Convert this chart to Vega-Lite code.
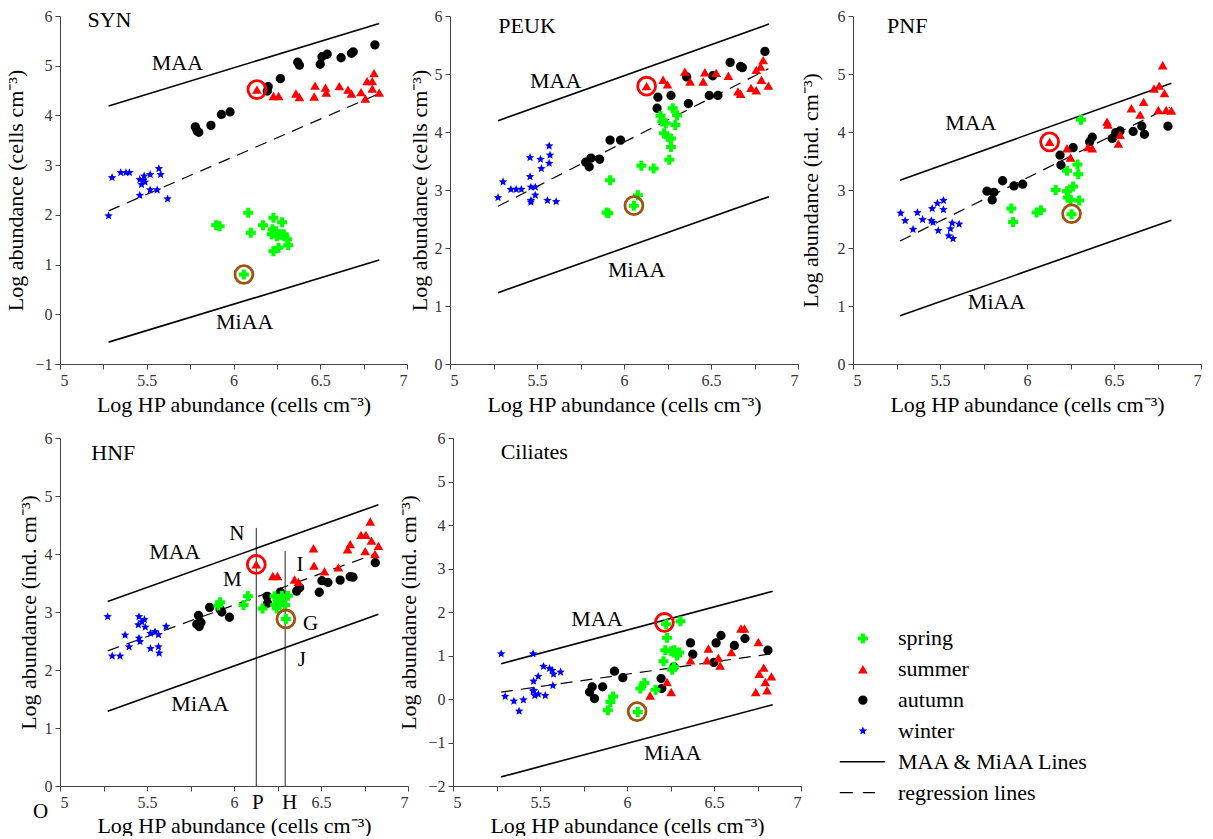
{
"background": "white",
"padding": {"left": 4, "top": 8, "right": 0, "bottom": 0},
"config": {
  "font": "Liberation Serif",
  "view": {"stroke": null},
  "axis": {"grid": false, "labelFont": "Liberation Serif", "titleFont": "Liberation Serif", "labelFontSize": 16, "titleFontSize": 22, "titleFontWeight": "normal", "labelColor": "#333333", "titleColor": "#000000", "domainColor": "#444444", "tickColor": "#444444", "tickSize": 5, "labelPadding": 3},
  "text": {"font": "Liberation Serif"}
},
"datasets": {
  "pts": [
    {"p":"SYN","s":"winter","x":5.28,"y":1.98},{"p":"SYN","s":"winter","x":5.30,"y":2.75},{"p":"SYN","s":"winter","x":5.35,"y":2.85},{"p":"SYN","s":"winter","x":5.38,"y":2.85},{"p":"SYN","s":"winter","x":5.40,"y":2.85},{"p":"SYN","s":"winter","x":5.46,"y":2.71},{"p":"SYN","s":"winter","x":5.47,"y":2.61},{"p":"SYN","s":"winter","x":5.485,"y":2.78},{"p":"SYN","s":"winter","x":5.49,"y":2.66},{"p":"SYN","s":"winter","x":5.52,"y":2.81},{"p":"SYN","s":"winter","x":5.57,"y":2.93},{"p":"SYN","s":"winter","x":5.58,"y":2.81},{"p":"SYN","s":"winter","x":5.52,"y":2.50},{"p":"SYN","s":"winter","x":5.56,"y":2.50},{"p":"SYN","s":"winter","x":5.46,"y":2.39},{"p":"SYN","s":"winter","x":5.62,"y":2.32},{"p":"SYN","s":"winter","x":5.48,"y":2.70},
    {"p":"SYN","s":"autumn","x":5.78,"y":3.77},{"p":"SYN","s":"autumn","x":5.79,"y":3.69},{"p":"SYN","s":"autumn","x":5.80,"y":3.66},{"p":"SYN","s":"autumn","x":5.87,"y":3.80},{"p":"SYN","s":"autumn","x":5.93,"y":4.02},{"p":"SYN","s":"autumn","x":5.98,"y":4.07},{"p":"SYN","s":"autumn","x":6.195,"y":4.49},{"p":"SYN","s":"autumn","x":6.20,"y":4.58},{"p":"SYN","s":"autumn","x":6.27,"y":4.74},{"p":"SYN","s":"autumn","x":6.37,"y":5.07},{"p":"SYN","s":"autumn","x":6.38,"y":5.01},{"p":"SYN","s":"autumn","x":6.50,"y":5.03},{"p":"SYN","s":"autumn","x":6.51,"y":5.18},{"p":"SYN","s":"autumn","x":6.54,"y":5.23},{"p":"SYN","s":"autumn","x":6.62,"y":5.16},{"p":"SYN","s":"autumn","x":6.68,"y":5.25},{"p":"SYN","s":"autumn","x":6.69,"y":5.28},{"p":"SYN","s":"autumn","x":6.815,"y":5.42},
    {"p":"SYN","s":"summer","x":6.135,"y":4.52},{"p":"SYN","s":"summer","x":6.23,"y":4.39},{"p":"SYN","s":"summer","x":6.26,"y":4.39},{"p":"SYN","s":"summer","x":6.36,"y":4.44},{"p":"SYN","s":"summer","x":6.38,"y":4.37},{"p":"SYN","s":"summer","x":6.465,"y":4.38},{"p":"SYN","s":"summer","x":6.47,"y":4.60},{"p":"SYN","s":"summer","x":6.53,"y":4.56},{"p":"SYN","s":"summer","x":6.535,"y":4.46},{"p":"SYN","s":"summer","x":6.61,"y":4.59},{"p":"SYN","s":"summer","x":6.66,"y":4.52},{"p":"SYN","s":"summer","x":6.68,"y":4.44},{"p":"SYN","s":"summer","x":6.735,"y":4.47},{"p":"SYN","s":"summer","x":6.76,"y":4.34},{"p":"SYN","s":"summer","x":6.77,"y":4.69},{"p":"SYN","s":"summer","x":6.80,"y":4.69},{"p":"SYN","s":"summer","x":6.81,"y":4.85},{"p":"SYN","s":"summer","x":6.80,"y":4.54},{"p":"SYN","s":"summer","x":6.84,"y":4.46},
    {"p":"SYN","s":"spring","x":5.90,"y":1.79},{"p":"SYN","s":"spring","x":5.92,"y":1.77},{"p":"SYN","s":"spring","x":6.085,"y":2.04},{"p":"SYN","s":"spring","x":6.10,"y":1.64},{"p":"SYN","s":"spring","x":6.17,"y":1.79},{"p":"SYN","s":"spring","x":6.23,"y":1.94},{"p":"SYN","s":"spring","x":6.225,"y":1.71},{"p":"SYN","s":"spring","x":6.22,"y":1.61},{"p":"SYN","s":"spring","x":6.245,"y":1.67},{"p":"SYN","s":"spring","x":6.25,"y":1.57},{"p":"SYN","s":"spring","x":6.27,"y":1.60},{"p":"SYN","s":"spring","x":6.28,"y":1.85},{"p":"SYN","s":"spring","x":6.29,"y":1.61},{"p":"SYN","s":"spring","x":6.31,"y":1.51},{"p":"SYN","s":"spring","x":6.315,"y":1.39},{"p":"SYN","s":"spring","x":6.26,"y":1.34},{"p":"SYN","s":"spring","x":6.23,"y":1.27},{"p":"SYN","s":"spring","x":6.06,"y":0.80},

    {"p":"PEUK","s":"winter","x":5.276,"y":2.87},{"p":"PEUK","s":"winter","x":5.305,"y":3.14},{"p":"PEUK","s":"winter","x":5.35,"y":3.01},{"p":"PEUK","s":"winter","x":5.38,"y":3.01},{"p":"PEUK","s":"winter","x":5.41,"y":3.01},{"p":"PEUK","s":"winter","x":5.46,"y":3.56},{"p":"PEUK","s":"winter","x":5.46,"y":3.23},{"p":"PEUK","s":"winter","x":5.465,"y":3.05},{"p":"PEUK","s":"winter","x":5.465,"y":2.82},{"p":"PEUK","s":"winter","x":5.465,"y":2.79},{"p":"PEUK","s":"winter","x":5.49,"y":3.05},{"p":"PEUK","s":"winter","x":5.49,"y":2.91},{"p":"PEUK","s":"winter","x":5.52,"y":3.53},{"p":"PEUK","s":"winter","x":5.525,"y":3.37},{"p":"PEUK","s":"winter","x":5.56,"y":2.82},{"p":"PEUK","s":"winter","x":5.57,"y":3.76},{"p":"PEUK","s":"winter","x":5.575,"y":3.60},{"p":"PEUK","s":"winter","x":5.57,"y":3.46},{"p":"PEUK","s":"winter","x":5.61,"y":2.80},
    {"p":"PEUK","s":"autumn","x":5.78,"y":3.48},{"p":"PEUK","s":"autumn","x":5.80,"y":3.40},{"p":"PEUK","s":"autumn","x":5.81,"y":3.55},{"p":"PEUK","s":"autumn","x":5.86,"y":3.53},{"p":"PEUK","s":"autumn","x":5.92,"y":3.86},{"p":"PEUK","s":"autumn","x":5.98,"y":3.86},{"p":"PEUK","s":"autumn","x":6.19,"y":4.41},{"p":"PEUK","s":"autumn","x":6.195,"y":4.60},{"p":"PEUK","s":"autumn","x":6.27,"y":4.63},{"p":"PEUK","s":"autumn","x":6.37,"y":4.49},{"p":"PEUK","s":"autumn","x":6.36,"y":4.95},{"p":"PEUK","s":"autumn","x":6.51,"y":4.97},{"p":"PEUK","s":"autumn","x":6.49,"y":4.63},{"p":"PEUK","s":"autumn","x":6.54,"y":4.63},{"p":"PEUK","s":"autumn","x":6.61,"y":5.20},{"p":"PEUK","s":"autumn","x":6.67,"y":5.13},{"p":"PEUK","s":"autumn","x":6.68,"y":5.11},{"p":"PEUK","s":"autumn","x":6.81,"y":5.39},
    {"p":"PEUK","s":"summer","x":6.13,"y":4.79},{"p":"PEUK","s":"summer","x":6.225,"y":4.90},{"p":"PEUK","s":"summer","x":6.25,"y":4.82},{"p":"PEUK","s":"summer","x":6.35,"y":5.04},{"p":"PEUK","s":"summer","x":6.38,"y":4.87},{"p":"PEUK","s":"summer","x":6.455,"y":4.87},{"p":"PEUK","s":"summer","x":6.465,"y":5.03},{"p":"PEUK","s":"summer","x":6.53,"y":5.02},{"p":"PEUK","s":"summer","x":6.60,"y":4.97},{"p":"PEUK","s":"summer","x":6.655,"y":4.70},{"p":"PEUK","s":"summer","x":6.67,"y":4.66},{"p":"PEUK","s":"summer","x":6.73,"y":4.76},{"p":"PEUK","s":"summer","x":6.76,"y":4.72},{"p":"PEUK","s":"summer","x":6.76,"y":5.07},{"p":"PEUK","s":"summer","x":6.785,"y":5.13},{"p":"PEUK","s":"summer","x":6.80,"y":5.24},{"p":"PEUK","s":"summer","x":6.79,"y":4.90},{"p":"PEUK","s":"summer","x":6.83,"y":4.80},
    {"p":"PEUK","s":"spring","x":5.90,"y":2.61},{"p":"PEUK","s":"spring","x":5.91,"y":2.60},{"p":"PEUK","s":"spring","x":5.92,"y":3.17},{"p":"PEUK","s":"spring","x":6.08,"y":2.91},{"p":"PEUK","s":"spring","x":6.057,"y":2.73},{"p":"PEUK","s":"spring","x":6.10,"y":3.42},{"p":"PEUK","s":"spring","x":6.17,"y":3.37},{"p":"PEUK","s":"spring","x":6.21,"y":4.28},{"p":"PEUK","s":"spring","x":6.22,"y":4.18},{"p":"PEUK","s":"spring","x":6.23,"y":3.98},{"p":"PEUK","s":"spring","x":6.24,"y":4.15},{"p":"PEUK","s":"spring","x":6.25,"y":3.92},{"p":"PEUK","s":"spring","x":6.27,"y":3.89},{"p":"PEUK","s":"spring","x":6.27,"y":3.74},{"p":"PEUK","s":"spring","x":6.26,"y":3.52},{"p":"PEUK","s":"spring","x":6.28,"y":4.41},{"p":"PEUK","s":"spring","x":6.305,"y":4.29},{"p":"PEUK","s":"spring","x":6.295,"y":4.12},

    {"p":"PNF","s":"winter","x":5.274,"y":2.60},{"p":"PNF","s":"winter","x":5.30,"y":2.47},{"p":"PNF","s":"winter","x":5.345,"y":2.32},{"p":"PNF","s":"winter","x":5.37,"y":2.61},{"p":"PNF","s":"winter","x":5.40,"y":2.49},{"p":"PNF","s":"winter","x":5.45,"y":2.47},{"p":"PNF","s":"winter","x":5.455,"y":2.68},{"p":"PNF","s":"winter","x":5.46,"y":2.44},{"p":"PNF","s":"winter","x":5.485,"y":2.77},{"p":"PNF","s":"winter","x":5.49,"y":2.30},{"p":"PNF","s":"winter","x":5.52,"y":2.82},{"p":"PNF","s":"winter","x":5.52,"y":2.66},{"p":"PNF","s":"winter","x":5.55,"y":2.21},{"p":"PNF","s":"winter","x":5.56,"y":2.33},{"p":"PNF","s":"winter","x":5.57,"y":2.43},{"p":"PNF","s":"winter","x":5.575,"y":2.16},{"p":"PNF","s":"winter","x":5.61,"y":2.41},
    {"p":"PNF","s":"autumn","x":5.77,"y":2.98},{"p":"PNF","s":"autumn","x":5.80,"y":2.83},{"p":"PNF","s":"autumn","x":5.81,"y":2.96},{"p":"PNF","s":"autumn","x":5.86,"y":3.16},{"p":"PNF","s":"autumn","x":5.925,"y":3.07},{"p":"PNF","s":"autumn","x":5.975,"y":3.10},{"p":"PNF","s":"autumn","x":6.19,"y":3.60},{"p":"PNF","s":"autumn","x":6.195,"y":3.43},{"p":"PNF","s":"autumn","x":6.265,"y":3.73},{"p":"PNF","s":"autumn","x":6.36,"y":3.83},{"p":"PNF","s":"autumn","x":6.375,"y":3.91},{"p":"PNF","s":"autumn","x":6.49,"y":3.89},{"p":"PNF","s":"autumn","x":6.51,"y":3.99},{"p":"PNF","s":"autumn","x":6.535,"y":4.02},{"p":"PNF","s":"autumn","x":6.61,"y":4.01},{"p":"PNF","s":"autumn","x":6.66,"y":4.10},{"p":"PNF","s":"autumn","x":6.675,"y":3.96},{"p":"PNF","s":"autumn","x":6.81,"y":4.10},
    {"p":"PNF","s":"summer","x":6.13,"y":3.83},{"p":"PNF","s":"summer","x":6.23,"y":3.72},{"p":"PNF","s":"summer","x":6.25,"y":3.56},{"p":"PNF","s":"summer","x":6.35,"y":3.74},{"p":"PNF","s":"summer","x":6.375,"y":3.72},{"p":"PNF","s":"summer","x":6.46,"y":4.18},{"p":"PNF","s":"summer","x":6.465,"y":4.13},{"p":"PNF","s":"summer","x":6.525,"y":3.80},{"p":"PNF","s":"summer","x":6.535,"y":3.95},{"p":"PNF","s":"summer","x":6.60,"y":4.41},{"p":"PNF","s":"summer","x":6.65,"y":4.30},{"p":"PNF","s":"summer","x":6.67,"y":4.52},{"p":"PNF","s":"summer","x":6.73,"y":4.75},{"p":"PNF","s":"summer","x":6.76,"y":4.80},{"p":"PNF","s":"summer","x":6.755,"y":4.38},{"p":"PNF","s":"summer","x":6.78,"y":5.15},{"p":"PNF","s":"summer","x":6.79,"y":4.67},{"p":"PNF","s":"summer","x":6.80,"y":4.38},{"p":"PNF","s":"summer","x":6.83,"y":4.37},
    {"p":"PNF","s":"spring","x":5.91,"y":2.68},{"p":"PNF","s":"spring","x":5.92,"y":2.45},{"p":"PNF","s":"spring","x":6.055,"y":2.61},{"p":"PNF","s":"spring","x":6.08,"y":2.65},{"p":"PNF","s":"spring","x":6.165,"y":3.0},{"p":"PNF","s":"spring","x":6.23,"y":3.33},{"p":"PNF","s":"spring","x":6.23,"y":2.98},{"p":"PNF","s":"spring","x":6.235,"y":2.87},{"p":"PNF","s":"spring","x":6.265,"y":3.06},{"p":"PNF","s":"spring","x":6.29,"y":3.44},{"p":"PNF","s":"spring","x":6.295,"y":3.27},{"p":"PNF","s":"spring","x":6.30,"y":2.82},{"p":"PNF","s":"spring","x":6.31,"y":4.21},{"p":"PNF","s":"spring","x":6.256,"y":2.58},{"p":"PNF","s":"spring","x":6.25,"y":2.83},

    {"p":"HNF","s":"winter","x":5.274,"y":2.92},{"p":"HNF","s":"winter","x":5.30,"y":2.24},{"p":"HNF","s":"winter","x":5.345,"y":2.24},{"p":"HNF","s":"winter","x":5.374,"y":2.60},{"p":"HNF","s":"winter","x":5.397,"y":2.40},{"p":"HNF","s":"winter","x":5.454,"y":2.92},{"p":"HNF","s":"winter","x":5.45,"y":2.78},{"p":"HNF","s":"winter","x":5.454,"y":2.55},{"p":"HNF","s":"winter","x":5.46,"y":2.49},{"p":"HNF","s":"winter","x":5.47,"y":2.83},{"p":"HNF","s":"winter","x":5.485,"y":2.87},{"p":"HNF","s":"winter","x":5.49,"y":2.74},{"p":"HNF","s":"winter","x":5.52,"y":2.37},{"p":"HNF","s":"winter","x":5.52,"y":2.63},{"p":"HNF","s":"winter","x":5.546,"y":2.66},{"p":"HNF","s":"winter","x":5.566,"y":2.61},{"p":"HNF","s":"winter","x":5.566,"y":2.40},{"p":"HNF","s":"winter","x":5.57,"y":2.29},{"p":"HNF","s":"winter","x":5.61,"y":2.75},
    {"p":"HNF","s":"autumn","x":5.786,"y":2.79},{"p":"HNF","s":"autumn","x":5.796,"y":2.94},{"p":"HNF","s":"autumn","x":5.80,"y":2.75},{"p":"HNF","s":"autumn","x":5.81,"y":2.82},{"p":"HNF","s":"autumn","x":5.86,"y":3.08},{"p":"HNF","s":"autumn","x":5.92,"y":3.05},{"p":"HNF","s":"autumn","x":5.93,"y":3.0},{"p":"HNF","s":"autumn","x":5.974,"y":2.91},{"p":"HNF","s":"autumn","x":6.19,"y":3.27},{"p":"HNF","s":"autumn","x":6.193,"y":3.15},{"p":"HNF","s":"autumn","x":6.266,"y":3.34},{"p":"HNF","s":"autumn","x":6.36,"y":3.36},{"p":"HNF","s":"autumn","x":6.377,"y":3.42},{"p":"HNF","s":"autumn","x":6.49,"y":3.34},{"p":"HNF","s":"autumn","x":6.505,"y":3.54},{"p":"HNF","s":"autumn","x":6.54,"y":3.51},{"p":"HNF","s":"autumn","x":6.61,"y":3.55},{"p":"HNF","s":"autumn","x":6.668,"y":3.61},{"p":"HNF","s":"autumn","x":6.684,"y":3.60},{"p":"HNF","s":"autumn","x":6.812,"y":3.85},
    {"p":"HNF","s":"summer","x":6.128,"y":3.82},{"p":"HNF","s":"summer","x":6.223,"y":3.62},{"p":"HNF","s":"summer","x":6.25,"y":3.62},{"p":"HNF","s":"summer","x":6.348,"y":3.56},{"p":"HNF","s":"summer","x":6.37,"y":3.52},{"p":"HNF","s":"summer","x":6.457,"y":4.10},{"p":"HNF","s":"summer","x":6.46,"y":3.80},{"p":"HNF","s":"summer","x":6.52,"y":3.70},{"p":"HNF","s":"summer","x":6.60,"y":3.77},{"p":"HNF","s":"summer","x":6.653,"y":4.08},{"p":"HNF","s":"summer","x":6.668,"y":4.17},{"p":"HNF","s":"summer","x":6.73,"y":4.33},{"p":"HNF","s":"summer","x":6.758,"y":4.33},{"p":"HNF","s":"summer","x":6.754,"y":4.05},{"p":"HNF","s":"summer","x":6.783,"y":4.56},{"p":"HNF","s":"summer","x":6.79,"y":4.23},{"p":"HNF","s":"summer","x":6.81,"y":4.0},{"p":"HNF","s":"summer","x":6.83,"y":4.14},
    {"p":"HNF","s":"spring","x":5.91,"y":3.11},{"p":"HNF","s":"spring","x":5.92,"y":3.17},{"p":"HNF","s":"spring","x":6.055,"y":3.12},{"p":"HNF","s":"spring","x":6.08,"y":3.27},{"p":"HNF","s":"spring","x":6.164,"y":3.06},{"p":"HNF","s":"spring","x":6.233,"y":3.27},{"p":"HNF","s":"spring","x":6.237,"y":3.12},{"p":"HNF","s":"spring","x":6.246,"y":3.06},{"p":"HNF","s":"spring","x":6.256,"y":3.21},{"p":"HNF","s":"spring","x":6.275,"y":3.28},{"p":"HNF","s":"spring","x":6.294,"y":3.12},{"p":"HNF","s":"spring","x":6.31,"y":3.28},{"p":"HNF","s":"spring","x":6.298,"y":2.88},{"p":"HNF","s":"spring","x":6.266,"y":3.18},

    {"p":"Ciliates","s":"winter","x":5.277,"y":1.04},{"p":"Ciliates","s":"winter","x":5.30,"y":0.06},{"p":"Ciliates","s":"winter","x":5.35,"y":-0.05},{"p":"Ciliates","s":"winter","x":5.38,"y":-0.28},{"p":"Ciliates","s":"winter","x":5.405,"y":-0.02},{"p":"Ciliates","s":"winter","x":5.46,"y":1.04},{"p":"Ciliates","s":"winter","x":5.463,"y":0.41},{"p":"Ciliates","s":"winter","x":5.49,"y":0.52},{"p":"Ciliates","s":"winter","x":5.465,"y":0.20},{"p":"Ciliates","s":"winter","x":5.47,"y":0.08},{"p":"Ciliates","s":"winter","x":5.49,"y":0.11},{"p":"Ciliates","s":"winter","x":5.52,"y":0.75},{"p":"Ciliates","s":"winter","x":5.53,"y":0.08},{"p":"Ciliates","s":"winter","x":5.555,"y":0.70},{"p":"Ciliates","s":"winter","x":5.57,"y":0.66},{"p":"Ciliates","s":"winter","x":5.574,"y":0.31},{"p":"Ciliates","s":"winter","x":5.578,"y":0.57},{"p":"Ciliates","s":"winter","x":5.618,"y":0.62},{"p":"Ciliates","s":"winter","x":5.46,"y":0.18},
    {"p":"Ciliates","s":"autumn","x":5.785,"y":0.16},{"p":"Ciliates","s":"autumn","x":5.80,"y":0.28},{"p":"Ciliates","s":"autumn","x":5.813,"y":0.01},{"p":"Ciliates","s":"autumn","x":5.86,"y":0.28},{"p":"Ciliates","s":"autumn","x":5.928,"y":0.64},{"p":"Ciliates","s":"autumn","x":5.976,"y":0.49},{"p":"Ciliates","s":"autumn","x":6.196,"y":0.47},{"p":"Ciliates","s":"autumn","x":6.20,"y":0.24},{"p":"Ciliates","s":"autumn","x":6.269,"y":0.74},{"p":"Ciliates","s":"autumn","x":6.365,"y":1.29},{"p":"Ciliates","s":"autumn","x":6.378,"y":1.03},{"p":"Ciliates","s":"autumn","x":6.499,"y":0.84},{"p":"Ciliates","s":"autumn","x":6.512,"y":1.29},{"p":"Ciliates","s":"autumn","x":6.54,"y":1.46},{"p":"Ciliates","s":"autumn","x":6.617,"y":1.23},{"p":"Ciliates","s":"autumn","x":6.678,"y":1.39},{"p":"Ciliates","s":"autumn","x":6.81,"y":1.12},
    {"p":"Ciliates","s":"summer","x":6.133,"y":0.08},{"p":"Ciliates","s":"summer","x":6.23,"y":0.39},{"p":"Ciliates","s":"summer","x":6.254,"y":0.16},{"p":"Ciliates","s":"summer","x":6.365,"y":0.89},{"p":"Ciliates","s":"summer","x":6.46,"y":0.89},{"p":"Ciliates","s":"summer","x":6.468,"y":1.16},{"p":"Ciliates","s":"summer","x":6.525,"y":0.95},{"p":"Ciliates","s":"summer","x":6.535,"y":0.77},{"p":"Ciliates","s":"summer","x":6.60,"y":1.08},{"p":"Ciliates","s":"summer","x":6.655,"y":1.62},{"p":"Ciliates","s":"summer","x":6.675,"y":1.62},{"p":"Ciliates","s":"summer","x":6.74,"y":0.16},{"p":"Ciliates","s":"summer","x":6.755,"y":1.31},{"p":"Ciliates","s":"summer","x":6.76,"y":0.58},{"p":"Ciliates","s":"summer","x":6.786,"y":0.72},{"p":"Ciliates","s":"summer","x":6.795,"y":0.39},{"p":"Ciliates","s":"summer","x":6.805,"y":0.20},{"p":"Ciliates","s":"summer","x":6.83,"y":0.52},
    {"p":"Ciliates","s":"spring","x":5.89,"y":-0.26},{"p":"Ciliates","s":"spring","x":5.905,"y":-0.07},{"p":"Ciliates","s":"spring","x":5.92,"y":0.06},{"p":"Ciliates","s":"spring","x":6.062,"y":-0.30},{"p":"Ciliates","s":"spring","x":6.077,"y":0.24},{"p":"Ciliates","s":"spring","x":6.10,"y":0.37},{"p":"Ciliates","s":"spring","x":6.164,"y":0.21},{"p":"Ciliates","s":"spring","x":6.225,"y":1.72},{"p":"Ciliates","s":"spring","x":6.23,"y":1.41},{"p":"Ciliates","s":"spring","x":6.21,"y":0.87},{"p":"Ciliates","s":"spring","x":6.22,"y":1.12},{"p":"Ciliates","s":"spring","x":6.254,"y":1.10},{"p":"Ciliates","s":"spring","x":6.27,"y":0.74},{"p":"Ciliates","s":"spring","x":6.273,"y":1.12},{"p":"Ciliates","s":"spring","x":6.288,"y":1.0},{"p":"Ciliates","s":"spring","x":6.30,"y":1.07},{"p":"Ciliates","s":"spring","x":6.307,"y":1.79},{"p":"Ciliates","s":"spring","x":6.26,"y":0.67}
  ],
  "lines": [
    {"p":"SYN","l":"MAA","x":5.28,"y":4.19},{"p":"SYN","l":"MAA","x":6.84,"y":5.85},{"p":"SYN","l":"MiAA","x":5.28,"y":-0.56},{"p":"SYN","l":"MiAA","x":6.84,"y":1.09},{"p":"SYN","l":"reg","x":5.28,"y":2.08},{"p":"SYN","l":"reg","x":6.84,"y":4.44},
    {"p":"PEUK","l":"MAA","x":5.276,"y":4.195},{"p":"PEUK","l":"MAA","x":6.833,"y":5.86},{"p":"PEUK","l":"MiAA","x":5.276,"y":1.23},{"p":"PEUK","l":"MiAA","x":6.833,"y":2.885},{"p":"PEUK","l":"reg","x":5.276,"y":2.72},{"p":"PEUK","l":"reg","x":6.83,"y":5.09},
    {"p":"PNF","l":"MAA","x":5.27,"y":3.17},{"p":"PNF","l":"MAA","x":6.83,"y":4.84},{"p":"PNF","l":"MiAA","x":5.27,"y":0.83},{"p":"PNF","l":"MiAA","x":6.83,"y":2.48},{"p":"PNF","l":"reg","x":5.27,"y":2.12},{"p":"PNF","l":"reg","x":6.82,"y":4.43},
    {"p":"HNF","l":"MAA","x":5.274,"y":3.18},{"p":"HNF","l":"MAA","x":6.83,"y":4.85},{"p":"HNF","l":"MiAA","x":5.274,"y":1.29},{"p":"HNF","l":"MiAA","x":6.83,"y":2.96},{"p":"HNF","l":"reg","x":5.274,"y":2.33},{"p":"HNF","l":"reg","x":6.82,"y":4.01},
    {"p":"Ciliates","l":"MAA","x":5.277,"y":0.81},{"p":"Ciliates","l":"MAA","x":6.837,"y":2.475},{"p":"Ciliates","l":"MiAA","x":5.277,"y":-1.79},{"p":"Ciliates","l":"MiAA","x":6.837,"y":-0.13},{"p":"Ciliates","l":"reg","x":5.277,"y":0.16},{"p":"Ciliates","l":"reg","x":6.83,"y":1.04}
  ],
  "circ": [
    {"p":"SYN","k":"MAA","x":6.135,"y":4.52},{"p":"SYN","k":"MiAA","x":6.06,"y":0.80},
    {"p":"PEUK","k":"MAA","x":6.13,"y":4.79},{"p":"PEUK","k":"MiAA","x":6.057,"y":2.73},
    {"p":"PNF","k":"MAA","x":6.13,"y":3.83},{"p":"PNF","k":"MiAA","x":6.256,"y":2.59},
    {"p":"HNF","k":"MAA","x":6.128,"y":3.82},{"p":"HNF","k":"MiAA","x":6.298,"y":2.88},
    {"p":"Ciliates","k":"MAA","x":6.215,"y":1.76},{"p":"Ciliates","k":"MiAA","x":6.058,"y":-0.29}
  ],
  "labs": [
    {"p":"SYN","t":"MAA","x":5.677,"y":5.05},{"p":"SYN","t":"MiAA","x":6.065,"y":-0.16},
    {"p":"PEUK","t":"MAA","x":5.607,"y":4.88},{"p":"PEUK","t":"MiAA","x":6.073,"y":1.62},
    {"p":"PNF","t":"MAA","x":5.677,"y":4.15},{"p":"PNF","t":"MiAA","x":5.825,"y":1.07},
    {"p":"HNF","t":"MAA","x":5.66,"y":4.03},{"p":"HNF","t":"MiAA","x":5.805,"y":1.41},
    {"p":"Ciliates","t":"MAA","x":5.827,"y":1.83},{"p":"Ciliates","t":"MiAA","x":6.263,"y":-1.23}
  ],
  "names": [
    {"p":"SYN","t":"SYN","x":5.158,"y":5.92},{"p":"PEUK","t":"PEUK","x":5.278,"y":5.83},{"p":"PNF","t":"PNF","x":5.196,"y":5.82},{"p":"HNF","t":"HNF","x":5.18,"y":5.74},{"p":"Ciliates","t":"Ciliates","x":5.274,"y":5.68}
  ],
  "letters": [
    {"t":"N","x":6.016,"y":4.34},{"t":"M","x":5.99,"y":3.55},{"t":"I","x":6.38,"y":3.81},{"t":"G","x":6.44,"y":2.80},{"t":"J","x":6.39,"y":2.17},{"t":"P","x":6.137,"y":-0.30},{"t":"H","x":6.32,"y":-0.29},{"t":"O","x":4.889,"y":-0.45}
  ],
  "vlines": [
    {"t":"PN","x":6.128,"y":4.45},{"t":"HI","x":6.294,"y":4.05}
  ],
  "legend": [
    {"item":"spring","s":"spring"},{"item":"summer","s":"summer"},{"item":"autumn","s":"autumn"},{"item":"winter","s":"winter"},{"item":"MAA & MiAA Lines","s":"line"},{"item":"regression lines","s":"reg"}
  ]
},
"spacing": 15,
"vconcat": [
 {"spacing": 0, "hconcat": [
  {"width": 347, "height": 348,
   "encoding": {
     "x": {"field":"x","type":"quantitative","scale":{"domain":[5,7]},"title":"Log HP abundance (cells cm⁻³)","axis":{"values":[5,5.25,5.5,5.75,6,6.25,6.5,6.75,7],"labelExpr":"(datum.value*2)%1==0 ? format(datum.value,'~g') : ''","labelOverlap":false,"titlePadding":6}},
     "y": {"field":"y","type":"quantitative","scale":{"domain":[-1,6]},"title":"Log  abundance (cells cm⁻³)","axis":{"values":[-1,0,1,2,3,4,5,6],"format":"d","titlePadding":7}}
   },
   "layer": [
     {"data":{"name":"lines"},"transform":[{"filter":"datum.p=='SYN' && datum.l!='reg'"}],"mark":{"type":"line","color":"black","strokeWidth":1.6},"encoding":{"detail":{"field":"l","type":"nominal"}}},
     {"data":{"name":"lines"},"transform":[{"filter":"datum.p=='SYN' && datum.l=='reg'"}],"mark":{"type":"line","color":"black","strokeWidth":1.2,"strokeDash":[12,8]},"encoding":{"detail":{"field":"l","type":"nominal"}}},
     {"data":{"name":"pts"},"transform":[{"filter":"datum.p=='SYN'"}],"mark":{"type":"point","filled":true,"opacity":1},"encoding":{
        "shape":{"field":"s","type":"nominal","scale":{"domain":["spring","summer","autumn","winter"],"range":["cross","triangle-up","circle","M0,-1L0.265,-0.364L0.951,-0.309L0.428,0.139L0.588,0.809L0,0.45L-0.588,0.809L-0.428,0.139L-0.951,-0.309L-0.265,-0.364Z"]},"legend":null},
        "color":{"field":"s","type":"nominal","scale":{"domain":["spring","summer","autumn","winter"],"range":["#00FF00","#FF0000","#000000","#0000FF"]},"legend":null},
        "size":{"field":"s","type":"nominal","scale":{"domain":["spring","summer","autumn","winter"],"range":[100,80,95,170]},"legend":null}}},
     {"data":{"name":"circ"},"transform":[{"filter":"datum.p=='SYN' && datum.k=='MAA'"}],"mark":{"type":"point","shape":"circle","filled":false,"stroke":"#FF0000","strokeWidth":2.8,"size":320,"opacity":1},"encoding":{}},
     {"data":{"name":"circ"},"transform":[{"filter":"datum.p=='SYN' && datum.k=='MiAA'"}],"mark":{"type":"point","shape":"circle","filled":false,"stroke":"#A0520F","strokeWidth":2.8,"size":320,"opacity":1},"encoding":{}},
     {"data":{"name":"labs"},"transform":[{"filter":"datum.p=='SYN'"}],"mark":{"type":"text","fontSize":22,"align":"center","baseline":"middle","color":"black"},"encoding":{"text":{"field":"t","type":"nominal"}}},
     {"data":{"name":"names"},"transform":[{"filter":"datum.p=='SYN'"}],"mark":{"type":"text","fontSize":22,"align":"left","baseline":"middle","color":"black"},"encoding":{"text":{"field":"t","type":"nominal"}}}
   ]},
  {"width": 348, "height": 348,
   "encoding": {
     "x": {"field":"x","type":"quantitative","scale":{"domain":[5,7]},"title":"Log HP abundance (cells cm⁻³)","axis":{"values":[5,5.25,5.5,5.75,6,6.25,6.5,6.75,7],"labelExpr":"(datum.value*2)%1==0 ? format(datum.value,'~g') : ''","labelOverlap":false,"titlePadding":6}},
     "y": {"field":"y","type":"quantitative","scale":{"domain":[0,6]},"title":"Log  abundance (cells cm⁻³)","axis":{"values":[0,1,2,3,4,5,6],"format":"d","titlePadding":3}}
   },
   "layer": [
     {"data":{"name":"lines"},"transform":[{"filter":"datum.p=='PEUK' && datum.l!='reg'"}],"mark":{"type":"line","color":"black","strokeWidth":1.6},"encoding":{"detail":{"field":"l","type":"nominal"}}},
     {"data":{"name":"lines"},"transform":[{"filter":"datum.p=='PEUK' && datum.l=='reg'"}],"mark":{"type":"line","color":"black","strokeWidth":1.2,"strokeDash":[12,8]},"encoding":{"detail":{"field":"l","type":"nominal"}}},
     {"data":{"name":"pts"},"transform":[{"filter":"datum.p=='PEUK'"}],"mark":{"type":"point","filled":true,"opacity":1},"encoding":{
        "shape":{"field":"s","type":"nominal","scale":{"domain":["spring","summer","autumn","winter"],"range":["cross","triangle-up","circle","M0,-1L0.265,-0.364L0.951,-0.309L0.428,0.139L0.588,0.809L0,0.45L-0.588,0.809L-0.428,0.139L-0.951,-0.309L-0.265,-0.364Z"]},"legend":null},
        "color":{"field":"s","type":"nominal","scale":{"domain":["spring","summer","autumn","winter"],"range":["#00FF00","#FF0000","#000000","#0000FF"]},"legend":null},
        "size":{"field":"s","type":"nominal","scale":{"domain":["spring","summer","autumn","winter"],"range":[100,80,95,170]},"legend":null}}},
     {"data":{"name":"circ"},"transform":[{"filter":"datum.p=='PEUK' && datum.k=='MAA'"}],"mark":{"type":"point","shape":"circle","filled":false,"stroke":"#FF0000","strokeWidth":2.8,"size":320,"opacity":1},"encoding":{}},
     {"data":{"name":"circ"},"transform":[{"filter":"datum.p=='PEUK' && datum.k=='MiAA'"}],"mark":{"type":"point","shape":"circle","filled":false,"stroke":"#A0520F","strokeWidth":2.8,"size":320,"opacity":1},"encoding":{}},
     {"data":{"name":"labs"},"transform":[{"filter":"datum.p=='PEUK'"}],"mark":{"type":"text","fontSize":22,"align":"center","baseline":"middle","color":"black"},"encoding":{"text":{"field":"t","type":"nominal"}}},
     {"data":{"name":"names"},"transform":[{"filter":"datum.p=='PEUK'"}],"mark":{"type":"text","fontSize":22,"align":"left","baseline":"middle","color":"black"},"encoding":{"text":{"field":"t","type":"nominal"}}}
   ]},
  {"width": 348, "height": 348,
   "encoding": {
     "x": {"field":"x","type":"quantitative","scale":{"domain":[5,7]},"title":"Log HP abundance (cells cm⁻³)","axis":{"values":[5,5.25,5.5,5.75,6,6.25,6.5,6.75,7],"labelExpr":"(datum.value*2)%1==0 ? format(datum.value,'~g') : ''","labelOverlap":false,"titlePadding":6}},
     "y": {"field":"y","type":"quantitative","scale":{"domain":[0,6]},"title":"Log  abundance (ind. cm⁻³)","axis":{"values":[0,1,2,3,4,5,6],"format":"d","titlePadding":15}}
   },
   "layer": [
     {"data":{"name":"lines"},"transform":[{"filter":"datum.p=='PNF' && datum.l!='reg'"}],"mark":{"type":"line","color":"black","strokeWidth":1.6},"encoding":{"detail":{"field":"l","type":"nominal"}}},
     {"data":{"name":"lines"},"transform":[{"filter":"datum.p=='PNF' && datum.l=='reg'"}],"mark":{"type":"line","color":"black","strokeWidth":1.2,"strokeDash":[12,8]},"encoding":{"detail":{"field":"l","type":"nominal"}}},
     {"data":{"name":"pts"},"transform":[{"filter":"datum.p=='PNF'"}],"mark":{"type":"point","filled":true,"opacity":1},"encoding":{
        "shape":{"field":"s","type":"nominal","scale":{"domain":["spring","summer","autumn","winter"],"range":["cross","triangle-up","circle","M0,-1L0.265,-0.364L0.951,-0.309L0.428,0.139L0.588,0.809L0,0.45L-0.588,0.809L-0.428,0.139L-0.951,-0.309L-0.265,-0.364Z"]},"legend":null},
        "color":{"field":"s","type":"nominal","scale":{"domain":["spring","summer","autumn","winter"],"range":["#00FF00","#FF0000","#000000","#0000FF"]},"legend":null},
        "size":{"field":"s","type":"nominal","scale":{"domain":["spring","summer","autumn","winter"],"range":[100,80,95,170]},"legend":null}}},
     {"data":{"name":"circ"},"transform":[{"filter":"datum.p=='PNF' && datum.k=='MAA'"}],"mark":{"type":"point","shape":"circle","filled":false,"stroke":"#FF0000","strokeWidth":2.8,"size":320,"opacity":1},"encoding":{}},
     {"data":{"name":"circ"},"transform":[{"filter":"datum.p=='PNF' && datum.k=='MiAA'"}],"mark":{"type":"point","shape":"circle","filled":false,"stroke":"#A0520F","strokeWidth":2.8,"size":320,"opacity":1},"encoding":{}},
     {"data":{"name":"labs"},"transform":[{"filter":"datum.p=='PNF'"}],"mark":{"type":"text","fontSize":22,"align":"center","baseline":"middle","color":"black"},"encoding":{"text":{"field":"t","type":"nominal"}}},
     {"data":{"name":"names"},"transform":[{"filter":"datum.p=='PNF'"}],"mark":{"type":"text","fontSize":22,"align":"left","baseline":"middle","color":"black"},"encoding":{"text":{"field":"t","type":"nominal"}}}
   ]}
 ]},
 {"spacing": -12, "hconcat": [
  {"width": 348, "height": 348,
   "encoding": {
     "x": {"field":"x","type":"quantitative","scale":{"domain":[5,7]},"title":"Log HP abundance (cells cm⁻³)","axis":{"values":[5,5.25,5.5,5.75,6,6.25,6.5,6.75,7],"labelExpr":"(datum.value*2)%1==0 ? format(datum.value,'~g') : ''","labelOverlap":false,"titlePadding":5}},
     "y": {"field":"y","type":"quantitative","scale":{"domain":[0,6]},"title":"Log  abundance (ind. cm⁻³)","axis":{"values":[0,1,2,3,4,5,6],"format":"d","titlePadding":4}}
   },
   "layer": [
     {"data":{"name":"vlines"},"mark":{"type":"rule","color":"#222222","strokeWidth":1},"encoding":{"y2":{"datum":0}}},
     {"data":{"name":"lines"},"transform":[{"filter":"datum.p=='HNF' && datum.l!='reg'"}],"mark":{"type":"line","color":"black","strokeWidth":1.6},"encoding":{"detail":{"field":"l","type":"nominal"}}},
     {"data":{"name":"lines"},"transform":[{"filter":"datum.p=='HNF' && datum.l=='reg'"}],"mark":{"type":"line","color":"black","strokeWidth":1.2,"strokeDash":[12,8]},"encoding":{"detail":{"field":"l","type":"nominal"}}},
     {"data":{"name":"pts"},"transform":[{"filter":"datum.p=='HNF'"}],"mark":{"type":"point","filled":true,"opacity":1},"encoding":{
        "shape":{"field":"s","type":"nominal","scale":{"domain":["spring","summer","autumn","winter"],"range":["cross","triangle-up","circle","M0,-1L0.265,-0.364L0.951,-0.309L0.428,0.139L0.588,0.809L0,0.45L-0.588,0.809L-0.428,0.139L-0.951,-0.309L-0.265,-0.364Z"]},"legend":null},
        "color":{"field":"s","type":"nominal","scale":{"domain":["spring","summer","autumn","winter"],"range":["#00FF00","#FF0000","#000000","#0000FF"]},"legend":null},
        "size":{"field":"s","type":"nominal","scale":{"domain":["spring","summer","autumn","winter"],"range":[100,80,95,170]},"legend":null}}},
     {"data":{"name":"circ"},"transform":[{"filter":"datum.p=='HNF' && datum.k=='MAA'"}],"mark":{"type":"point","shape":"circle","filled":false,"stroke":"#FF0000","strokeWidth":2.8,"size":320,"opacity":1},"encoding":{}},
     {"data":{"name":"circ"},"transform":[{"filter":"datum.p=='HNF' && datum.k=='MiAA'"}],"mark":{"type":"point","shape":"circle","filled":false,"stroke":"#A0520F","strokeWidth":2.8,"size":320,"opacity":1},"encoding":{}},
     {"data":{"name":"labs"},"transform":[{"filter":"datum.p=='HNF'"}],"mark":{"type":"text","fontSize":22,"align":"center","baseline":"middle","color":"black"},"encoding":{"text":{"field":"t","type":"nominal"}}},
     {"data":{"name":"names"},"transform":[{"filter":"datum.p=='HNF'"}],"mark":{"type":"text","fontSize":22,"align":"left","baseline":"middle","color":"black"},"encoding":{"text":{"field":"t","type":"nominal"}}},
     {"data":{"name":"letters"},"mark":{"type":"text","fontSize":21,"align":"center","baseline":"middle","color":"black"},"encoding":{"text":{"field":"t","type":"nominal"}}}
   ]},
  {"width": 348, "height": 348,
   "encoding": {
     "x": {"field":"x","type":"quantitative","scale":{"domain":[5,7]},"title":"Log HP abundance (cells cm⁻³)","axis":{"values":[5,5.25,5.5,5.75,6,6.25,6.5,6.75,7],"labelExpr":"(datum.value*2)%1==0 ? format(datum.value,'~g') : ''","labelOverlap":false,"titlePadding":5}},
     "y": {"field":"y","type":"quantitative","scale":{"domain":[-2,6]},"title":"Log  abundance (ind. cm⁻³)","axis":{"values":[-2,-1,0,1,2,3,4,5,6],"format":"d","titlePadding":7}}
   },
   "layer": [
     {"data":{"name":"lines"},"transform":[{"filter":"datum.p=='Ciliates' && datum.l!='reg'"}],"mark":{"type":"line","color":"black","strokeWidth":1.6},"encoding":{"detail":{"field":"l","type":"nominal"}}},
     {"data":{"name":"lines"},"transform":[{"filter":"datum.p=='Ciliates' && datum.l=='reg'"}],"mark":{"type":"line","color":"black","strokeWidth":1.2,"strokeDash":[12,8]},"encoding":{"detail":{"field":"l","type":"nominal"}}},
     {"data":{"name":"pts"},"transform":[{"filter":"datum.p=='Ciliates'"}],"mark":{"type":"point","filled":true,"opacity":1},"encoding":{
        "shape":{"field":"s","type":"nominal","scale":{"domain":["spring","summer","autumn","winter"],"range":["cross","triangle-up","circle","M0,-1L0.265,-0.364L0.951,-0.309L0.428,0.139L0.588,0.809L0,0.45L-0.588,0.809L-0.428,0.139L-0.951,-0.309L-0.265,-0.364Z"]},"legend":null},
        "color":{"field":"s","type":"nominal","scale":{"domain":["spring","summer","autumn","winter"],"range":["#00FF00","#FF0000","#000000","#0000FF"]},"legend":null},
        "size":{"field":"s","type":"nominal","scale":{"domain":["spring","summer","autumn","winter"],"range":[100,80,95,170]},"legend":null}}},
     {"data":{"name":"circ"},"transform":[{"filter":"datum.p=='Ciliates' && datum.k=='MAA'"}],"mark":{"type":"point","shape":"circle","filled":false,"stroke":"#FF0000","strokeWidth":2.8,"size":320,"opacity":1},"encoding":{}},
     {"data":{"name":"circ"},"transform":[{"filter":"datum.p=='Ciliates' && datum.k=='MiAA'"}],"mark":{"type":"point","shape":"circle","filled":false,"stroke":"#A0520F","strokeWidth":2.8,"size":320,"opacity":1},"encoding":{}},
     {"data":{"name":"labs"},"transform":[{"filter":"datum.p=='Ciliates'"}],"mark":{"type":"text","fontSize":22,"align":"center","baseline":"middle","color":"black"},"encoding":{"text":{"field":"t","type":"nominal"}}},
     {"data":{"name":"names"},"transform":[{"filter":"datum.p=='Ciliates'"}],"mark":{"type":"text","fontSize":22,"align":"left","baseline":"middle","color":"black"},"encoding":{"text":{"field":"t","type":"nominal"}}}
   ]},
  {"width": 300, "height": 370,
   "data": {"name": "legend"},
   "encoding": {
     "y": {"field":"item","type":"nominal","sort":null,"scale":{"type":"point","domain":["d1","d2","d3","d4","d5","d6","spring","summer","autumn","winter","MAA & MiAA Lines","regression lines"],"padding":0.5},"axis":null}
   },
   "layer": [
     {"transform":[{"filter":"datum.s=='spring' || datum.s=='summer' || datum.s=='autumn' || datum.s=='winter'"}],"mark":{"type":"point","filled":true,"opacity":1},"encoding":{
        "x":{"datum":20.3,"type":"quantitative","scale":{"domain":[0,100]},"axis":null},
        "shape":{"field":"s","type":"nominal","scale":{"domain":["spring","summer","autumn","winter"],"range":["cross","triangle-up","circle","M0,-1L0.265,-0.364L0.951,-0.309L0.428,0.139L0.588,0.809L0,0.45L-0.588,0.809L-0.428,0.139L-0.951,-0.309L-0.265,-0.364Z"]},"legend":null},
        "color":{"field":"s","type":"nominal","scale":{"domain":["spring","summer","autumn","winter"],"range":["#00FF00","#FF0000","#000000","#0000FF"]},"legend":null},
        "size":{"field":"s","type":"nominal","scale":{"domain":["spring","summer","autumn","winter"],"range":[100,80,95,170]},"legend":null}}},
     {"transform":[{"filter":"datum.s=='line'"}],"mark":{"type":"rule","color":"black","strokeWidth":1.3},"encoding":{"x":{"datum":12.6,"type":"quantitative","axis":null},"x2":{"datum":27.6}}},
     {"transform":[{"filter":"datum.s=='reg'"}],"mark":{"type":"rule","color":"black","strokeWidth":1.3,"strokeDash":[13,10]},"encoding":{"x":{"datum":12.6,"type":"quantitative","axis":null},"x2":{"datum":24.3}}},
     {"mark":{"type":"text","fontSize":22,"align":"left","baseline":"middle","color":"black"},"encoding":{"x":{"datum":32,"type":"quantitative","axis":null},"text":{"field":"item","type":"nominal"}}}
   ]}
 ]}
]
}
